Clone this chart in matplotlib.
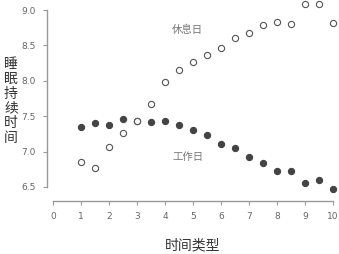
import matplotlib
matplotlib.use("Agg")
import matplotlib.pyplot as plt

plt.rcParams['font.family'] = ['Noto Sans CJK SC', 'DejaVu Sans']

# x positions (half steps) and sleep durations
x_vals = [1, 1.5, 2, 2.5, 3, 3.5, 4, 4.5, 5, 5.5, 6, 6.5, 7, 7.5, 8, 8.5, 9, 9.5, 10]
workday = [7.35, 7.41, 7.37, 7.46, 7.43, 7.42, 7.43, 7.38, 7.31, 7.23, 7.11, 7.05,
           6.93, 6.84, 6.73, 6.73, 6.55, 6.60, 6.47]
restday = [6.86, 6.77, 7.07, 7.26, 7.43, 7.67, 7.99, 8.15, 8.26, 8.37, 8.47, 8.60,
           8.68, 8.79, 8.83, 8.80, 9.08, 9.08, 8.82]
x_ticks = list(range(0, 11))
y_ticks = [6.5, 7.0, 7.5, 8.0, 8.5, 9.0]

fig = plt.figure(figsize=(3.39, 2.54), dpi=100)
ax = fig.add_axes([53/339, 67/254, 280/339, 177/254])

ax.scatter(x_vals, workday, s=20, color='#444444', edgecolors='#444444',
           linewidths=0.8, zorder=3, clip_on=False)
ax.scatter(x_vals, restday, s=20, facecolors='white', edgecolors='#555555',
           linewidths=0.8, zorder=4, clip_on=False)

ax.text(4.25, 8.72, '休息日', fontsize=7.5, color='#777777', va='center', ha='left')
ax.text(4.25, 6.92, '工作日', fontsize=7.5, color='#777777', va='center', ha='left')

ax.set_xlim(0, 10)
ax.set_ylim(6.5, 9.0)
ax.set_xticks(x_ticks)
ax.set_yticks(y_ticks)
ax.set_yticklabels([f'{v:.1f}' for v in y_ticks])

for side in ['top', 'right']:
    ax.spines[side].set_visible(False)
ax.spines['left'].set_position(('outward', 4.3))
ax.spines['bottom'].set_position(('outward', 10))
for side in ['left', 'bottom']:
    ax.spines[side].set_color('#999999')
    ax.spines[side].set_linewidth(1.0)

ax.tick_params(axis='both', colors='#999999', length=3, width=0.8,
               labelsize=6.5, labelcolor='#666666', pad=5)
for lab in ax.get_xticklabels() + ax.get_yticklabels():
    lab.set_family('DejaVu Sans')

fig.text(11/339, 1 - 101/254, '睡\n眠\n持\n续\n时\n间', fontsize=10, color='#333333',
         ha='center', va='center', linespacing=1.08)
fig.text(193/339, 1 - 245/254, '时间类型', fontsize=10, color='#333333',
         ha='center', va='center')

fig.savefig('out.png', dpi=100)
